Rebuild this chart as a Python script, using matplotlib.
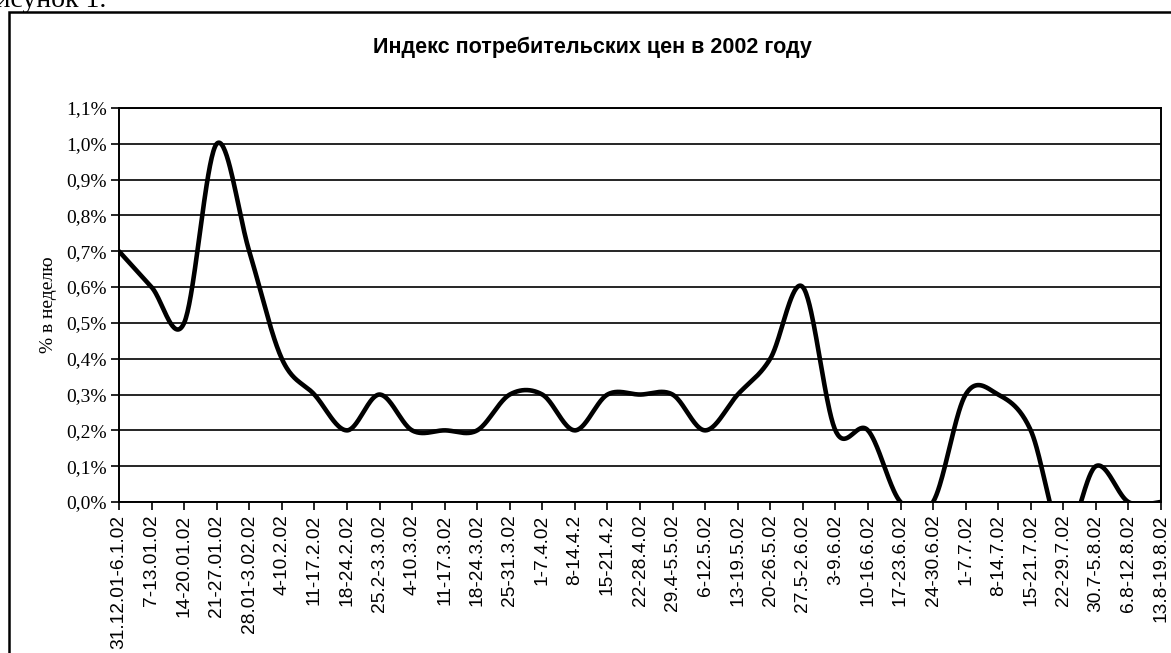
import numpy as np
import matplotlib
matplotlib.use("Agg")
import matplotlib.pyplot as plt
from matplotlib.patches import Rectangle
from matplotlib.ticker import FuncFormatter

weeks = ["31.12.01-6.1.02", "7-13.01.02", "14-20.01.02", "21-27.01.02", "28.01-3.02.02",
         "4-10.2.02", "11-17.2.02", "18-24.2.02", "25.2-3.3.02", "4-10.3.02",
         "11-17.3.02", "18-24.3.02", "25-31.3.02", "1-7.4.02", "8-14.4.2",
         "15-21.4.2", "22-28.4.02", "29.4-5.5.02", "6-12.5.02", "13-19.5.02",
         "20-26.5.02", "27.5-2.6.02", "3-9.6.02", "10-16.6.02", "17-23.6.02",
         "24-30.6.02", "1-7.7.02", "8-14.7.02", "15-21.7.02", "22-29.7.02",
         "30.7-5.8.02", "6.8-12.8.02", "13.8-19.8.02"]
cpi = [0.7, 0.6, 0.5, 1.0, 0.7, 0.4, 0.3, 0.2, 0.3, 0.2,
       0.2, 0.2, 0.3, 0.3, 0.2, 0.3, 0.3, 0.3, 0.2, 0.3,
       0.4, 0.6, 0.2, 0.2, 0.0, 0.0, 0.3, 0.3, 0.2, -0.1,
       0.1, 0.0, 0.0]
title = "Индекс потребительских цен в 2002 году"
ylabel = "% в неделю"

def smooth(y, n=40):
    # excel-style smoothed line: bezier segments, control points at 1/6 of neighbour diffs
    y = np.asarray(y, float); x = np.arange(len(y), dtype=float)
    p = np.c_[x, y]; pp = np.vstack([p[:1], p, p[-1:]])
    t = np.linspace(0, 1, n)[:, None]; out = []
    for i in range(len(p) - 1):
        p0, p3 = pp[i+1], pp[i+2]
        c1 = p0 + (pp[i+2] - pp[i]) / 6; c2 = p3 - (pp[i+3] - pp[i+1]) / 6
        seg = (1-t)**3*p0 + 3*(1-t)**2*t*c1 + 3*(1-t)*t**2*c2 + t**3*p3
        out.append(seg if i == 0 else seg[1:])
    s = np.vstack(out); return s[:, 0], s[:, 1]

fig = plt.figure(figsize=(11.71, 6.53), dpi=100)
W, H = 1171, 653
# outer chart frame (cut by the page edge on the right and bottom)
fig.add_artist(Rectangle((9/W, -0.05), 1.2, 1 - 12/H + 0.05, transform=fig.transFigure,
                         fill=False, ec="black", lw=1.8, clip_on=False))
fig.text(106/W, 1 - 7/H, "Рисунок 1.", ha="right", va="baseline", fontsize=20,
         family="Liberation Serif")
fig.text(592/W, 1 - 47/H, title, ha="center", va="center", fontsize=15.5,
         fontweight="bold", family="Liberation Sans")

ax = fig.add_axes([119/W, 1 - 502/H, (1161-119)/W, (502-108)/H])
xs, ys = smooth(cpi)
ax.plot(xs, ys, color="black", lw=3.3, solid_capstyle="round", solid_joinstyle="round")
ax.set_xlim(0, len(weeks) - 1); ax.set_ylim(0, 1.1)
ax.set_yticks(np.arange(0, 1.101, 0.1))
ax.yaxis.set_major_formatter(FuncFormatter(lambda v, _: f"{v:.1f}%".replace(".", ",")))
ax.set_xticks(range(len(weeks)))
ax.set_xticklabels(weeks, rotation=90, fontsize=13.8, family="Liberation Sans")
for lab in ax.get_yticklabels():
    lab.set_family("Liberation Serif"); lab.set_fontsize(14)
ax.grid(axis="y", color="black", lw=1.2)
ax.set_axisbelow(True)
ax.tick_params(axis="both", direction="out", length=6, width=1.2, color="black", pad=3)
for s in ax.spines.values():
    s.set_color("black"); s.set_linewidth(1.4)
ax.set_ylabel(ylabel, family="Liberation Serif", fontsize=14, labelpad=6)
fig.savefig("out.png", dpi=100)
